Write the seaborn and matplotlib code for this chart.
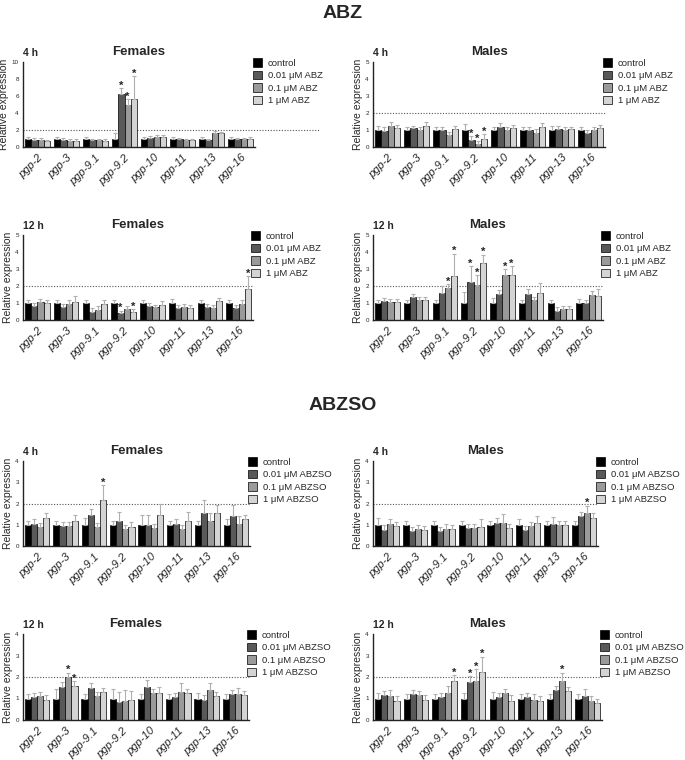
import numpy as np
import pandas as pd
import seaborn as sns
import matplotlib.pyplot as plt

genes = ["pgp-2", "pgp-3", "pgp-9.1", "pgp-9.2", "pgp-10", "pgp-11", "pgp-13", "pgp-16"]
abz_doses = ["control", "0.01 \u03bcM ABZ", "0.1 \u03bcM ABZ", "1 \u03bcM ABZ"]
abzso_doses = ["control", "0.01 \u03bcM ABZSO", "0.1 \u03bcM ABZSO", "1 \u03bcM ABZSO"]
bar_colors = ["#000000", "#595959", "#9a9a9a", "#d4d4d4"]

# one row per gene: control, 0.01, 0.1, 1 uM
abz_4h_f = [[1.0, 0.85, 0.85, 0.7], [1.0, 0.85, 0.75, 0.75], [1.0, 0.8, 0.8, 0.75], [1.0, 6.2, 4.9, 5.6],
            [1.0, 1.1, 1.2, 1.2], [1.0, 0.9, 0.8, 0.8], [1.0, 0.8, 1.7, 1.6], [1.0, 0.9, 0.9, 1.0]]
abz_4h_f_err = [[0.2, 0.2, 0.2, 0.15], [0.2, 0.2, 0.2, 0.2], [0.2, 0.2, 0.2, 0.2], [0.7, 0.7, 0.7, 2.7],
                [0.2, 0.2, 0.2, 0.2], [0.2, 0.2, 0.2, 0.2], [0.2, 0.2, 0.2, 0.2], [0.2, 0.2, 0.2, 0.2]]
abz_4h_f_star = [(3, 1), (3, 2), (3, 3)]

abz_4h_m = [[1.0, 0.95, 1.25, 1.1], [1.0, 1.1, 1.0, 1.25], [1.0, 1.0, 0.7, 1.05], [1.0, 0.4, 0.2, 0.45],
            [1.0, 1.2, 1.0, 1.1], [1.0, 1.0, 0.85, 1.15], [1.0, 1.05, 1.0, 1.05], [1.0, 0.85, 1.0, 1.1]]
abz_4h_m_err = [[0.25, 0.2, 0.2, 0.2], [0.2, 0.15, 0.2, 0.2], [0.2, 0.2, 0.2, 0.2], [0.35, 0.25, 0.15, 0.3],
                [0.2, 0.2, 0.2, 0.2], [0.2, 0.2, 0.2, 0.25], [0.25, 0.2, 0.2, 0.15], [0.2, 0.15, 0.2, 0.2]]
abz_4h_m_star = [(3, 1), (3, 2), (3, 3)]

abz_12h_f = [[1.0, 0.8, 1.05, 1.0], [1.0, 0.75, 0.95, 1.05], [1.0, 0.5, 0.6, 0.95], [1.0, 0.4, 0.65, 0.5],
             [1.0, 0.8, 0.75, 0.9], [1.0, 0.7, 0.75, 0.7], [1.0, 0.75, 0.7, 1.1], [1.0, 0.7, 0.95, 1.85]]
abz_12h_f_err = [[0.2, 0.2, 0.2, 0.2], [0.2, 0.2, 0.2, 0.35], [0.2, 0.2, 0.2, 0.2], [0.2, 0.15, 0.15, 0.15],
                 [0.2, 0.2, 0.15, 0.2], [0.25, 0.2, 0.2, 0.2], [0.2, 0.2, 0.2, 0.2], [0.2, 0.2, 0.25, 0.75]]
abz_12h_f_star = [(3, 1), (3, 3), (7, 3)]

abz_12h_m = [[1.0, 1.1, 1.05, 1.05], [1.0, 1.35, 1.15, 1.15], [1.0, 1.6, 1.9, 2.6], [1.0, 2.25, 2.05, 3.35],
             [1.0, 1.55, 2.65, 2.65], [1.0, 1.55, 1.15, 1.6], [1.0, 0.55, 0.65, 0.65], [1.0, 1.0, 1.5, 1.4]]
abz_12h_m_err = [[0.2, 0.2, 0.2, 0.2], [0.2, 0.2, 0.2, 0.2], [0.2, 0.4, 0.2, 1.3], [0.65, 0.9, 0.6, 0.5],
                 [0.3, 0.2, 0.35, 0.5], [0.2, 0.25, 0.2, 0.55], [0.2, 0.2, 0.2, 0.2], [0.25, 0.2, 0.2, 0.45]]
abz_12h_m_star = [(2, 2), (2, 3), (3, 1), (3, 2), (3, 3), (4, 2), (4, 3)]

abzso_4h_f = [[1.0, 1.05, 0.9, 1.3], [1.0, 0.95, 0.95, 1.2], [1.0, 1.45, 0.9, 2.15], [1.0, 1.2, 0.8, 0.9],
              [1.0, 1.0, 0.85, 1.45], [1.0, 1.05, 0.8, 1.2], [1.0, 1.55, 1.2, 1.55], [1.0, 1.4, 1.05, 1.25]]
abzso_4h_f_err = [[0.2, 0.2, 0.2, 0.25], [0.2, 0.2, 0.2, 0.25], [0.3, 0.3, 0.2, 0.7], [0.2, 0.4, 0.2, 0.25],
                  [0.45, 0.45, 0.2, 0.55], [0.2, 0.2, 0.2, 0.4], [0.2, 0.6, 0.35, 0.4], [0.25, 0.55, 0.35, 0.2]]
abzso_4h_f_star = [(2, 3)]

abzso_4h_m = [[1.0, 0.75, 1.05, 0.95], [1.0, 0.7, 0.8, 0.75], [1.0, 0.7, 0.8, 0.8], [1.0, 0.85, 0.85, 0.9],
              [1.0, 1.1, 1.1, 0.85], [1.0, 0.75, 0.95, 1.1], [1.0, 1.05, 1.0, 1.0], [1.0, 1.4, 1.55, 1.3]]
abzso_4h_m_err = [[0.3, 0.25, 0.2, 0.2], [0.2, 0.2, 0.2, 0.2], [0.2, 0.2, 0.25, 0.2], [0.2, 0.2, 0.2, 0.35],
                  [0.2, 0.2, 0.4, 0.2], [0.25, 0.2, 0.2, 0.3], [0.2, 0.3, 0.2, 0.2], [0.2, 0.2, 0.35, 0.25]]
abzso_4h_m_star = [(7, 2)]

abzso_12h_f = [[1.0, 1.05, 1.1, 0.95], [1.0, 1.55, 2.0, 1.6], [1.0, 1.5, 1.1, 1.3], [1.0, 0.85, 0.9, 0.95],
               [1.0, 1.55, 1.25, 1.25], [1.0, 1.05, 1.3, 1.25], [1.0, 0.95, 1.4, 1.1], [1.0, 1.2, 1.2, 1.15]]
abzso_12h_f_err = [[0.2, 0.2, 0.2, 0.2], [0.45, 0.2, 0.2, 0.2], [0.2, 0.2, 0.2, 0.2], [0.45, 0.45, 0.5, 0.4],
                   [0.2, 0.3, 0.2, 0.3], [0.2, 0.2, 0.4, 0.2], [0.25, 0.2, 0.3, 0.2], [0.2, 0.2, 0.3, 0.2]]
abzso_12h_f_star = [(1, 2), (1, 3)]

abzso_12h_m = [[1.0, 1.15, 1.1, 0.9], [1.0, 1.2, 1.15, 0.95], [1.0, 1.05, 1.25, 1.8], [1.0, 1.75, 1.8, 2.25],
               [1.0, 1.05, 1.25, 0.9], [1.0, 1.05, 0.95, 0.9], [1.0, 1.4, 1.8, 1.35], [1.0, 1.1, 0.9, 0.8]]
abzso_12h_m_err = [[0.25, 0.2, 0.3, 0.2], [0.2, 0.2, 0.2, 0.2], [0.2, 0.2, 0.35, 0.3], [0.25, 0.3, 0.55, 0.7],
                   [0.3, 0.2, 0.2, 0.25], [0.2, 0.2, 0.25, 0.2], [0.2, 0.2, 0.4, 0.2], [0.2, 0.35, 0.2, 0.2]]
abzso_12h_m_star = [(2, 3), (3, 1), (3, 2), (3, 3), (6, 2)]

sns.set_style("white")
plt.rcParams['font.family'] = ['Liberation Sans', 'DejaVu Sans']


def draw_panel(ax, means, errs, stars, doses, ymax, ystep, time_lab, sex, line_end=1.0):
    rows = []
    for gi, g in enumerate(genes):
        for di, d in enumerate(doses):
            rows.append({"gene": g, "dose": d, "value": means[gi][di]})
    df = pd.DataFrame(rows)
    sns.barplot(data=df, x="gene", y="value", hue="dose", order=genes, hue_order=doses,
                palette=bar_colors, width=0.86, edgecolor="black", linewidth=0.5,
                errorbar=None, ax=ax, legend=True)
    e = np.array(errs)
    bar_conts = list(ax.containers)
    for di, cont in enumerate(bar_conts):
        xs = np.array([p.get_x() + p.get_width() / 2 for p in cont.patches])
        hs = np.array([p.get_height() for p in cont.patches])
        ax.errorbar(xs, hs, yerr=[np.zeros(len(xs)), e[:, di]], fmt="none", ecolor="#b0b0b0",
                    elinewidth=0.8, capsize=1.6, capthick=0.8, zorder=1)
        for gi, dj in stars:
            if dj == di:
                ax.text(xs[gi], hs[gi] + e[gi, di] - ymax * 0.03, "*", ha="center", va="bottom",
                        fontsize=8, fontweight="bold")
    ax.axhline(2, xmin=0, xmax=line_end, ls=(0, (1, 1.5)), color="#555555", lw=0.8,
               clip_on=False, zorder=0)
    ax.set_xlim(-0.5, len(genes) - 0.5)
    ax.set_ylim(0, ymax)
    ax.set_yticks(np.arange(0, ymax + 0.01, ystep))
    ax.tick_params(axis="y", labelsize=4.5, length=2, width=0.8, pad=1)
    ax.tick_params(axis="x", length=0, labelsize=8, pad=4)
    ax.set_xticks(range(len(genes)))
    ax.set_xticklabels(genes, rotation=45, ha="right", rotation_mode="anchor", style="italic")
    ax.set_xlabel("")
    ax.set_ylabel("Relative expression", fontsize=7.5, labelpad=2)
    ax.set_title(sex, fontsize=9.5, fontweight="bold", pad=5)
    ax.text(0.0, 1.05, time_lab, transform=ax.transAxes, fontsize=7.5, fontweight="bold",
            ha="left", va="bottom")
    for s in ["top", "right"]:
        ax.spines[s].set_visible(False)
    for s in ["left", "bottom"]:
        ax.spines[s].set_linewidth(1.0)
        ax.spines[s].set_color("#222222")
    sns.move_legend(ax, "upper left", bbox_to_anchor=(0.97, 1.1), frameon=False, title=None,
                    fontsize=6.8, handlelength=1.0, handleheight=1.0, handletextpad=0.6,
                    labelspacing=0.32, borderpad=0)


W, H = 685, 760
fig = plt.figure(figsize=(W / 100, H / 100), dpi=100)


def add_ax(x0, y0, x1, y1):
    return fig.add_axes([x0 / W, 1 - y1 / H, (x1 - x0) / W, (y1 - y0) / H])


draw_panel(add_ax(23, 62, 255, 147), abz_4h_f, abz_4h_f_err, abz_4h_f_star, abz_doses, 10, 2,
           "4 h", "Females", line_end=1.28)
draw_panel(add_ax(373, 62, 605, 147), abz_4h_m, abz_4h_m_err, abz_4h_m_star, abz_doses, 5, 1,
           "4 h", "Males")
draw_panel(add_ax(23, 235, 253, 320), abz_12h_f, abz_12h_f_err, abz_12h_f_star, abz_doses, 5, 1,
           "12 h", "Females")
draw_panel(add_ax(373, 235, 603, 320), abz_12h_m, abz_12h_m_err, abz_12h_m_star, abz_doses, 5, 1,
           "12 h", "Males")
draw_panel(add_ax(23, 461, 250, 546), abzso_4h_f, abzso_4h_f_err, abzso_4h_f_star, abzso_doses, 4, 1,
           "4 h", "Females")
draw_panel(add_ax(373, 461, 598, 546), abzso_4h_m, abzso_4h_m_err, abzso_4h_m_star, abzso_doses, 4, 1,
           "4 h", "Males")
draw_panel(add_ax(23, 634, 249, 720), abzso_12h_f, abzso_12h_f_err, abzso_12h_f_star, abzso_doses, 4, 1,
           "12 h", "Females")
draw_panel(add_ax(373, 634, 602, 720), abzso_12h_m, abzso_12h_m_err, abzso_12h_m_star, abzso_doses, 4, 1,
           "12 h", "Males")

fig.text(0.5, 1 - 13 / H, "ABZ", ha="center", va="center", fontsize=14, fontweight="bold")
fig.text(0.5, 1 - 406 / H, "ABZSO", ha="center", va="center", fontsize=14, fontweight="bold")

fig.savefig("out.png", dpi=100)
